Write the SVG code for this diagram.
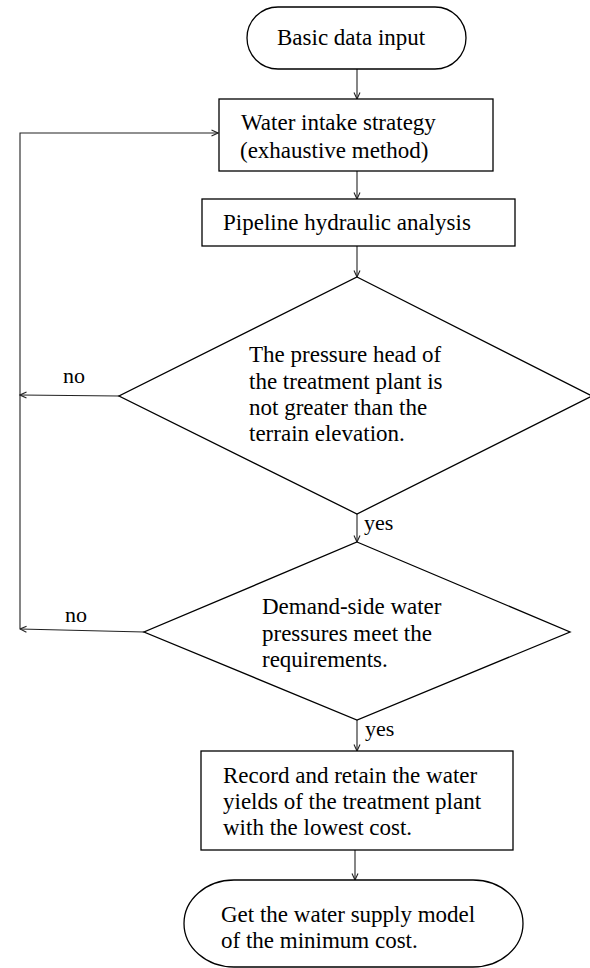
<svg xmlns="http://www.w3.org/2000/svg" width="590" height="968" viewBox="0 0 590 968">
<defs>
<style>
.shape{fill:#fff;stroke:#000;stroke-width:1.3}
.conn{fill:none;stroke:#222;stroke-width:1.1}
text{font-size:23px;fill:#000}
.lbl{font-size:22px}
</style>
<marker id="arr" viewBox="0 0 8 8" refX="7.5" refY="4" markerWidth="8" markerHeight="8" markerUnits="userSpaceOnUse" orient="auto">
<path d="M1,1 L7.5,4 L1,7" fill="none" stroke="#222" stroke-width="1.1"/>
</marker>
</defs>
<rect width="590" height="968" fill="#fff"/>
<g id="connectors" font-family="Liberation Serif">
<line class="conn" x1="357" y1="69" x2="357" y2="99" marker-end="url(#arr)"/>
<line class="conn" x1="357" y1="171" x2="357" y2="199" marker-end="url(#arr)"/>
<line class="conn" x1="357" y1="246" x2="357" y2="277" marker-end="url(#arr)"/>
<line class="conn" x1="357" y1="514" x2="357" y2="542" marker-end="url(#arr)"/>
<line class="conn" x1="357" y1="720" x2="357" y2="751" marker-end="url(#arr)"/>
<line class="conn" x1="355" y1="850" x2="355" y2="880" marker-end="url(#arr)"/>
<line class="conn" x1="119" y1="396" x2="20" y2="395" marker-end="url(#arr)"/>
<line class="conn" x1="144" y1="632" x2="20" y2="629" marker-end="url(#arr)"/>
<polyline class="conn" points="20,629 20,133 218,133" marker-end="url(#arr)"/>
<text class="lbl" x="63" y="383">no</text>
<text class="lbl" x="65" y="622">no</text>
<text class="lbl" x="364" y="530">yes</text>
<text class="lbl" x="365" y="736">yes</text>
</g>
<g id="start" font-family="Liberation Serif">
<rect class="shape" x="247" y="7" width="219" height="62" rx="31" ry="31"/>
<text x="277" y="45">Basic data input</text>
</g>
<g id="intake" font-family="Liberation Serif">
<rect class="shape" x="219" y="99" width="274" height="72"/>
<text x="241" y="130">Water intake strategy</text>
<text x="240" y="158">(exhaustive method)</text>
</g>
<g id="hydraulic" font-family="Liberation Serif">
<rect class="shape" x="202" y="199" width="313" height="47"/>
<text x="223" y="230">Pipeline hydraulic analysis</text>
</g>
<g id="decision1" font-family="Liberation Serif">
<polygon class="shape" points="357,277 592,396 357,514 119,396"/>
<text x="249" y="362">The pressure head of</text>
<text x="249" y="389">the treatment plant is</text>
<text x="249" y="415">not greater than the</text>
<text x="249" y="441">terrain elevation.</text>
</g>
<g id="decision2" font-family="Liberation Serif">
<polygon class="shape" points="357,542 570,632 357,720 144,632"/>
<text x="262" y="614">Demand-side water</text>
<text x="262" y="641">pressures meet the</text>
<text x="262" y="667">requirements.</text>
</g>
<g id="record" font-family="Liberation Serif">
<rect class="shape" x="201" y="751" width="312" height="99"/>
<text x="223" y="783">Record and retain the water</text>
<text x="223" y="809">yields of the treatment plant</text>
<text x="223" y="835">with the lowest cost.</text>
</g>
<g id="end" font-family="Liberation Serif">
<rect class="shape" x="184" y="880" width="339" height="87" rx="50" ry="43.5"/>
<text x="221" y="922">Get the water supply model</text>
<text x="221" y="948">of the minimum cost.</text>
</g>
</svg>
